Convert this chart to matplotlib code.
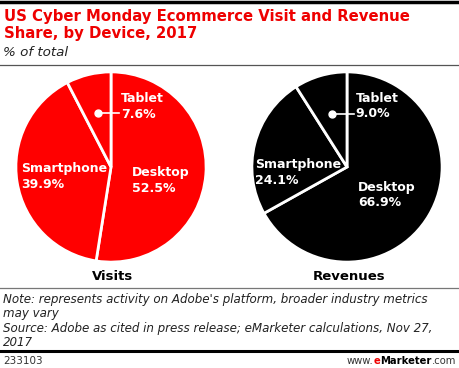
import matplotlib
matplotlib.use("Agg")
import matplotlib.pyplot as plt
from matplotlib.lines import Line2D
import numpy as np

# data
devices = ["Desktop", "Smartphone", "Tablet"]
visits = [52.5, 39.9, 7.6]
revenues = [66.9, 24.1, 9.0]
pie_titles = ["Visits", "Revenues"]
pie_colors = ["#ff0000", "#000000"]

W, H = 460, 368
fig = plt.figure(figsize=(W / 100, H / 100), dpi=100)
plt.rcParams["font.family"] = ["DejaVu Sans"]


def fy(y):
    return 1 - y / H


def fx(x):
    return x / W


# rules
fig.add_artist(Line2D([0, 1], [fy(2), fy(2)], color="black", lw=2.5))
fig.add_artist(Line2D([0, 1], [fy(65), fy(65)], color="#555555", lw=0.9))
fig.add_artist(Line2D([0, 1], [fy(288), fy(288)], color="#777777", lw=0.9))
fig.add_artist(Line2D([0, 1], [fy(351), fy(351)], color="black", lw=2.2))

# header
fig.text(fx(4), fy(21), "US Cyber Monday Ecommerce Visit and Revenue",
         color="#ee0000", fontsize=10.7, fontweight="bold", va="baseline")
fig.text(fx(4), fy(38), "Share, by Device, 2017",
         color="#ee0000", fontsize=10.7, fontweight="bold", va="baseline")
fig.text(fx(3), fy(56), "% of total", fontsize=9.7, style="italic",
         va="baseline", color="#222222")

# pies
centers = [(111, 167), (347, 167)]
R = 97
# label positions (pixel offsets from center) for Desktop, Smartphone, Tablet
label_pos = [
    [(21, -1), (-92, -5), (10, -76)],
    [(11, 14), (-94, -9), (9, -77)],
]
for i, (vals, color) in enumerate(zip([visits, revenues], pie_colors)):
    cx, cy = centers[i]
    ax = fig.add_axes([fx(cx - R), fy(cy + R), 2 * R / W, 2 * R / H])
    wedges, _ = ax.pie(vals, colors=[color] * 3, startangle=90,
                       counterclock=False, radius=1,
                       wedgeprops=dict(edgecolor="white", linewidth=2))
    ax.set_xlim(-1.02, 1.02)
    ax.set_ylim(-1.02, 1.02)
    ax.axis("off")
    for j, (name, v) in enumerate(zip(devices, vals)):
        dx, dy = label_pos[i][j]
        ax.text(dx / R, -dy / R, f"{name}\n{v:.1f}%", color="white",
                fontsize=9, fontweight="bold", ha="left", va="top",
                linespacing=1.25)
    # leader dot for tablet
    w = wedges[2]
    mid = np.deg2rad((w.theta1 + w.theta2) / 2)
    px, py = 0.58 * np.cos(mid), 0.58 * np.sin(mid)
    ax.plot([px], [py], "o", color="white", ms=5)
    ax.plot([px, label_pos[i][2][0] / R - 0.02], [py, py], color="white", lw=1.2)
    fig.text(fx(cx + 2), fy(280), pie_titles[i], ha="center", va="baseline",
             fontsize=9.5, fontweight="bold")

# notes
notes = ["Note: represents activity on Adobe's platform, broader industry metrics",
         "may vary",
         "Source: Adobe as cited in press release; eMarketer calculations, Nov 27,",
         "2017"]
for k, line in enumerate(notes):
    fig.text(fx(3), fy(303 + k * 14.3), line, fontsize=8.6, style="italic",
             va="baseline", color="#222222")

fig.text(fx(3), fy(364), "233103", fontsize=7.5, va="baseline", color="#333333")

# eMarketer logo text, built right to left
renderer = fig.canvas.get_renderer()
parts = [(".com", "#333333", "normal"), ("Marketer", "black", "bold"),
         ("e", "#ee0000", "bold"), ("www.", "#333333", "normal")]
xr = 456
for txt, col, wt in parts:
    t = fig.text(fx(xr), fy(364), txt, fontsize=7.2, color=col, fontweight=wt,
                 ha="right", va="baseline")
    bb = t.get_window_extent(renderer)
    xr -= bb.width

fig.savefig("out.png", dpi=100)
